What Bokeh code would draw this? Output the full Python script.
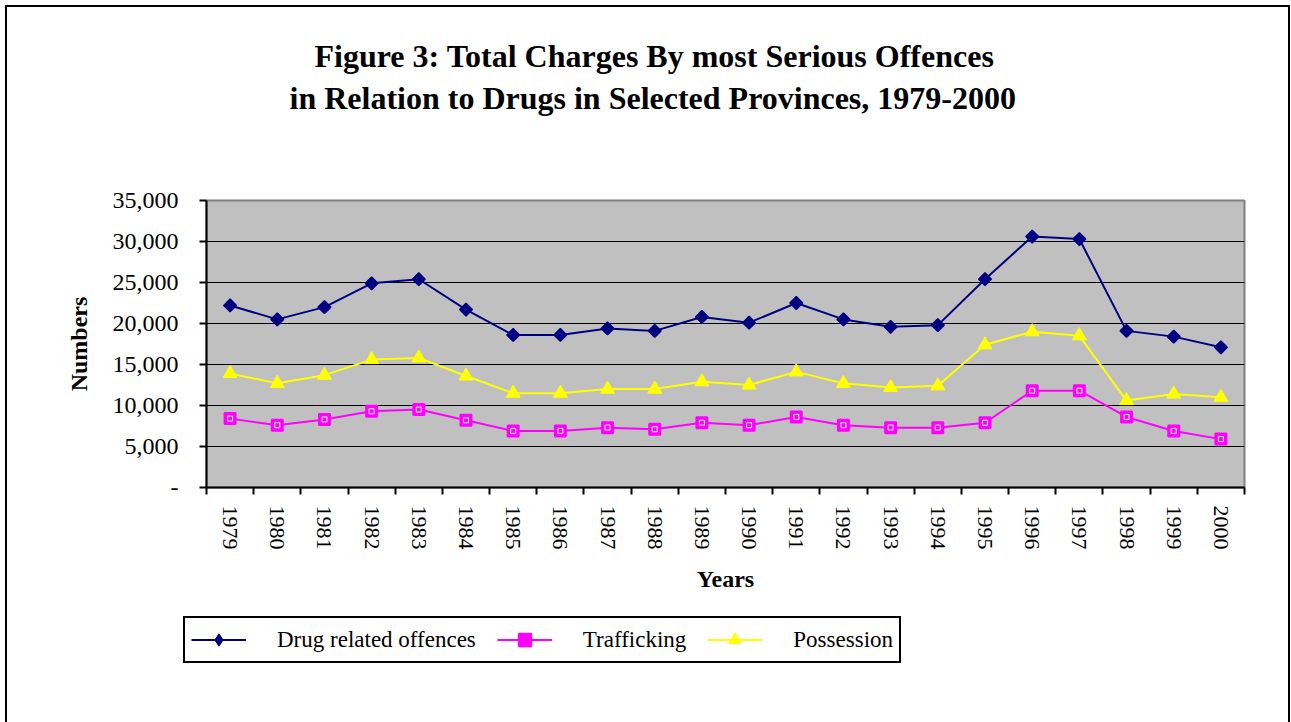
from bokeh.plotting import figure
from bokeh.layouts import column
from bokeh.models import FixedTicker, Legend, LegendItem, Title
from bokeh.embed import file_html
from bokeh.resources import INLINE

years = ["1979", "1980", "1981", "1982", "1983", "1984", "1985", "1986", "1987", "1988", "1989",
         "1990", "1991", "1992", "1993", "1994", "1995", "1996", "1997", "1998", "1999", "2000"]
drug_related = [22200, 20500, 22000, 24900, 25400, 21700, 18600, 18600, 19400, 19100, 20800,
                20100, 22500, 20500, 19600, 19800, 25400, 30600, 30300, 19100, 18400, 17100]
trafficking = [8400, 7600, 8300, 9300, 9500, 8200, 6900, 6900, 7300, 7100, 7900,
               7600, 8600, 7600, 7300, 7300, 7900, 11800, 11800, 8600, 6900, 5900]
possession = [13900, 12700, 13700, 15600, 15800, 13600, 11500, 11500, 12000, 12000, 12900,
              12500, 14100, 12700, 12200, 12400, 17400, 19000, 18500, 10600, 11400, 11000]
y_ticks = [0, 5000, 10000, 15000, 20000, 25000, 30000, 35000]
y_tick_labels = ["-", "5,000", "10,000", "15,000", "20,000", "25,000", "30,000", "35,000"]
series_names = ["Drug related offences", "Trafficking", "Possession"]

title_line1 = "Figure 3: Total Charges By most Serious Offences"
title_line2 = "in Relation to Drugs in Selected Provinces, 1979-2000"

FONT = "Liberation Serif"
NAVY, MAGENTA, YELLOW = "#000080", "#FF00FF", "#FFFF00"
n = len(years)
xs = [i + 0.5 for i in range(n)]

# ---------------- main chart ----------------
p = figure(width=1285, height=595, output_backend="svg", toolbar_location=None,
           x_range=(0, n), y_range=(0, 35000), title=None,
           min_border_left=199, min_border_right=48, min_border_top=193, min_border_bottom=115)
p.margin = (5, 0, 0, 5)
p.styles = {"border-top": "2px solid black", "border-left": "2px solid black",
            "border-right": "2px solid black", "box-sizing": "border-box"}

p.background_fill_color = "#C0C0C0"
p.border_fill_color = "white"
p.outline_line_color = "#808080"
p.outline_line_width = 2

# titles (stacked outward from the plot frame)
spacer_top = Title(text=" ", text_font_size="1px", standoff=78)
t2 = Title(text=title_line2, align="left", offset=83, standoff=8,
           text_font=FONT, text_font_size="32px", text_font_style="bold", text_color="black")
t1 = Title(text=title_line1, align="left", offset=108, standoff=0,
           text_font=FONT, text_font_size="32px", text_font_style="bold", text_color="black")
p.add_layout(spacer_top, "above")
p.add_layout(t2, "above")
p.add_layout(t1, "above")

# grid
p.xgrid.grid_line_color = None
p.ygrid.grid_line_color = "black"
p.ygrid.grid_line_width = 1
p.ygrid.ticker = FixedTicker(ticks=y_ticks)

# y axis
p.yaxis.ticker = FixedTicker(ticks=y_ticks)
p.yaxis.major_label_overrides = {t: l for t, l in zip(y_ticks, y_tick_labels)}
p.yaxis.axis_line_width = 2
p.yaxis.axis_line_color = "black"
p.yaxis.major_tick_out = 7
p.yaxis.major_tick_in = 0
p.yaxis.major_tick_line_width = 2
p.yaxis.minor_tick_line_color = None
p.yaxis.major_label_standoff = 21
p.yaxis.major_label_text_font = FONT
p.yaxis.major_label_text_font_size = "24px"
p.yaxis.major_label_text_color = "black"
p.yaxis.axis_label = "Numbers"
p.yaxis.axis_label_text_font = FONT
p.yaxis.axis_label_text_font_size = "24px"
p.yaxis.axis_label_text_font_style = "bold"
p.yaxis.axis_label_text_color = "black"
p.yaxis.axis_label_standoff = 18

# x axis
p.xaxis.ticker = FixedTicker(ticks=xs, minor_ticks=list(range(n + 1)))
p.xaxis.major_label_overrides = {x: y for x, y in zip(xs, years)}
p.xaxis.major_label_orientation = "vertical"
p.xaxis.axis_line_width = 2
p.xaxis.axis_line_color = "black"
p.xaxis.major_tick_line_color = None
p.xaxis.major_tick_out = 7
p.xaxis.major_tick_in = 0
p.xaxis.minor_tick_line_color = "black"
p.xaxis.minor_tick_line_width = 2
p.xaxis.minor_tick_out = 7
p.xaxis.minor_tick_in = 0
p.xaxis.major_label_standoff = 11
p.xaxis.major_label_text_font = FONT
p.xaxis.major_label_text_font_size = "22px"
p.xaxis.major_label_text_color = "black"
p.xaxis.axis_label = "Years"
p.xaxis.axis_label_text_font = FONT
p.xaxis.axis_label_text_font_size = "24px"
p.xaxis.axis_label_text_font_style = "bold"
p.xaxis.axis_label_text_color = "black"
p.xaxis.axis_label_standoff = 13

# series
p.line(xs, drug_related, line_color=NAVY, line_width=2)
p.scatter(xs, drug_related, marker="square", angle=0.785398, size=9,
          fill_color=NAVY, line_color=NAVY, line_width=1.5)
p.line(xs, trafficking, line_color=MAGENTA, line_width=2)
p.scatter(xs, trafficking, marker="square", size=11,
          fill_color=MAGENTA, line_color=MAGENTA, line_width=2)
p.scatter(xs, trafficking, marker="square", size=5,
          fill_color=None, line_color="white", line_width=1)
p.line(xs, possession, line_color=YELLOW, line_width=2)
p.scatter(xs, possession, marker="triangle", size=14,
          fill_color=YELLOW, line_color=YELLOW, line_width=1)

# ---------------- legend strip (inside the same outer border) ----------------
q = figure(width=1285, height=122, output_backend="svg", toolbar_location=None,
           x_range=(0, 1), y_range=(0, 1), x_axis_location=None, y_axis_location=None,
           min_border_left=176, min_border_right=0, min_border_top=16, min_border_bottom=0)
q.margin = (0, 0, 0, 5)
q.styles = {"border-left": "2px solid black", "border-right": "2px solid black",
            "box-sizing": "border-box"}
q.outline_line_color = None
q.background_fill_color = "white"
q.border_fill_color = "white"
q.grid.visible = False

# legend-only renderers: a single undefined (NaN) point each, so nothing is drawn in the plot area
nan = [float("nan")]
ql1 = q.line(nan, nan, line_color=NAVY, line_width=2)
qm1 = q.scatter(nan, nan, marker="diamond", size=13,
                fill_color=NAVY, line_color=NAVY, line_width=1)
ql2 = q.line(nan, nan, line_color=MAGENTA, line_width=2)
qm2 = q.scatter(nan, nan, marker="square", size=11,
                fill_color=MAGENTA, line_color=MAGENTA, line_width=2)
ql3 = q.line(nan, nan, line_color=YELLOW, line_width=2)
qm3 = q.scatter(nan, nan, marker="triangle", size=14,
                fill_color=YELLOW, line_color=YELLOW, line_width=1)

legend = Legend(items=[
    LegendItem(label=series_names[0], renderers=[ql1, qm1]),
    LegendItem(label=series_names[1], renderers=[ql2, qm2]),
    LegendItem(label=series_names[2], renderers=[ql3, qm3]),
], orientation="horizontal", location="top_left")
legend.border_line_color = "black"
legend.border_line_alpha = 1
legend.border_line_width = 2
legend.background_fill_color = "white"
legend.background_fill_alpha = 1
legend.label_text_font = FONT
legend.label_text_font_size = "23px"
legend.label_text_color = "black"
legend.glyph_width = 55
legend.glyph_height = 31
legend.label_standoff = 31
legend.spacing = 21
legend.padding = 6
legend.margin = 0
q.add_layout(legend, "center")

# nest the legend strip in its own column so its frame is not aligned with the chart's frame
layout = column(p, column(q, spacing=0), spacing=0)
open("out.html", "w").write(file_html(layout, INLINE))
